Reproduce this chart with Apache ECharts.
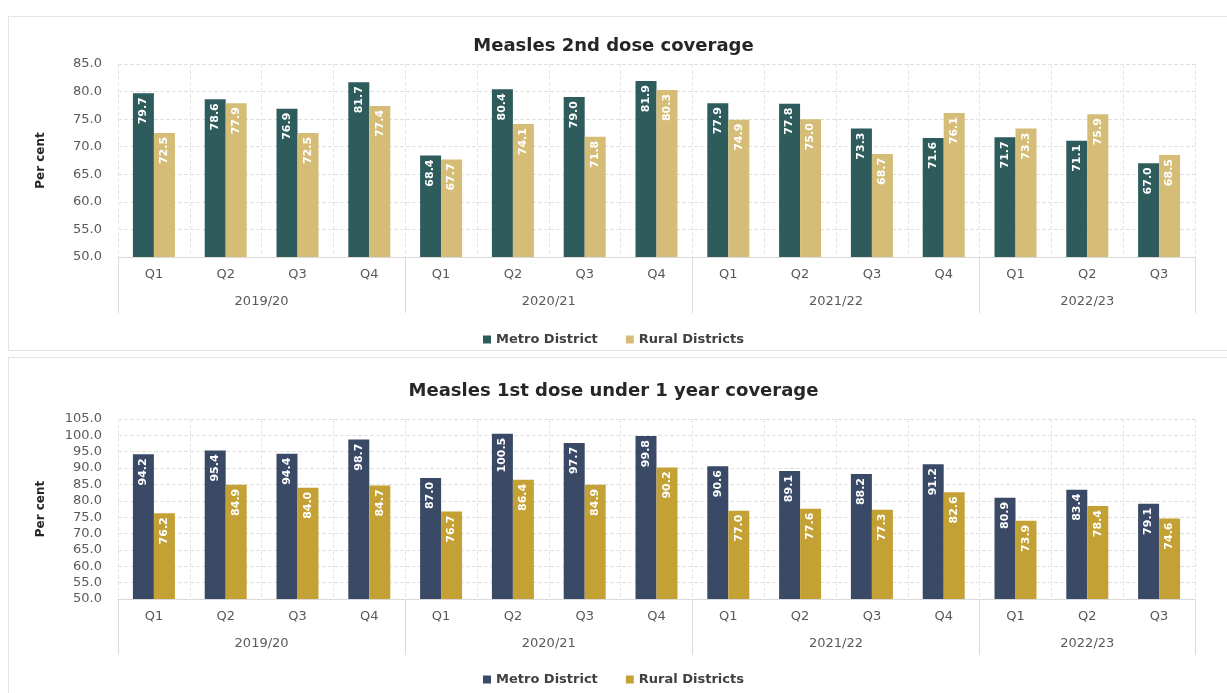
<!DOCTYPE html>
<html>
<head>
<meta charset="utf-8">
<script src="https://cdn.jsdelivr.net/npm/echarts@6/dist/echarts.min.js"></script>
<style>
  html, body { margin: 0; padding: 0; background: #ffffff; }
  .wrap { position: absolute; left: 0; width: 1227px; overflow: hidden; }
  #w1 { top: 0; height: 353px; }
  #w2 { top: 353px; height: 340px; }
  .box { position: absolute; border: 1px solid #e4e4e4; background: #fff; }
  #b1 { left: 8px; top: 16px; right: -4px; bottom: 2px; }
  #b2 { left: 8px; top: 4px; right: -4px; bottom: -4px; }
  .chart { position: absolute; left: 0; top: 0; width: 1227px; height: 100%; }
</style>
</head>
<body>
<div class="wrap" id="w1"><div class="box" id="b1"></div><div class="chart" id="c1"></div></div>
<div class="wrap" id="w2"><div class="box" id="b2"></div><div class="chart" id="c2"></div></div>
<script>
// ---- data ----
const quarters = ['Q1','Q2','Q3','Q4','Q1','Q2','Q3','Q4','Q1','Q2','Q3','Q4','Q1','Q2','Q3'];
const years = ['2019/20','2020/21','2021/22','2022/23'];
const yearSizes = [4, 4, 4, 3];
const seriesNames = ['Metro District', 'Rural Districts'];

const title1 = 'Measles 2nd dose coverage';
const metro2nd = [79.7, 78.6, 76.9, 81.7, 68.4, 80.4, 79.0, 81.9, 77.9, 77.8, 73.3, 71.6, 71.7, 71.1, 67.0];
const rural2nd = [72.5, 77.9, 72.5, 77.4, 67.7, 74.1, 71.8, 80.3, 74.9, 75.0, 68.7, 76.1, 73.3, 75.9, 68.5];
const yTicks1 = { min: 50, max: 85, interval: 5 };

const title2 = 'Measles 1st dose under 1 year coverage';
const metro1st = [94.2, 95.4, 94.4, 98.7, 87.0, 100.5, 97.7, 99.8, 90.6, 89.1, 88.2, 91.2, 80.9, 83.4, 79.1];
const rural1st = [76.2, 84.9, 84.0, 84.7, 76.7, 86.4, 84.9, 90.2, 77.0, 77.6, 77.3, 82.6, 73.9, 78.4, 74.6];
const yTicks2 = { min: 50, max: 105, interval: 5 };

const yAxisName = 'Per cent';

// ---- helpers ----
const FONT = 'DejaVu Sans';
const boundaries = [0];
const centers = [];
yearSizes.forEach(function (s) {
  const start = boundaries[boundaries.length - 1];
  centers.push(start + s / 2);
  boundaries.push(start + s);
});
const total = quarters.length;

function makeOption(cfg) {
  const labelCommon = {
    show: true,
    position: 'insideTop',
    rotate: 90,
    align: 'right',
    verticalAlign: 'middle',
    distance: 4,
    color: '#ffffff',
    fontFamily: FONT,
    fontWeight: 'bold',
    fontSize: 11,
    formatter: function (p) { return Number(p.value).toFixed(1); }
  };
  return {
    animation: false,
    backgroundColor: 'transparent',
    title: {
      text: cfg.title,
      left: 'center',
      top: cfg.titleTop,
      textStyle: { fontFamily: FONT, fontSize: 18, fontWeight: 'bold', color: '#262626' }
    },
    legend: {
      data: seriesNames,
      top: cfg.legendTop,
      left: 'center',
      icon: 'rect',
      itemWidth: 8,
      itemHeight: 8,
      itemGap: 28,
      textStyle: { fontFamily: FONT, fontSize: 13, fontWeight: 'bold', color: '#404040' }
    },
    grid: { left: 118, right: 32, top: cfg.gridTop, bottom: cfg.gridBottom, containLabel: false },
    xAxis: [
      {
        type: 'category',
        data: quarters,
        axisLine: { show: true, lineStyle: { color: '#d9d9d9' } },
        axisTick: { show: false },
        axisLabel: { interval: 0, margin: 11, fontFamily: FONT, fontSize: 13, color: '#595959' },
        splitLine: { show: true, interval: 0, lineStyle: { color: '#e6e6e6', type: 'dashed' } }
      },
      {
        type: 'value',
        min: 0,
        max: total,
        position: 'bottom',
        axisLine: { show: false },
        splitLine: { show: false },
        axisTick: { show: true, customValues: boundaries, length: 56, lineStyle: { color: '#dadada' } },
        axisLabel: {
          customValues: centers,
          margin: 38,
          fontFamily: FONT,
          fontSize: 13,
          color: '#595959',
          formatter: function (v) {
            const i = centers.indexOf(v);
            return i >= 0 ? years[i] : '';
          }
        }
      }
    ],
    yAxis: {
      type: 'value',
      min: cfg.y.min,
      max: cfg.y.max,
      interval: cfg.y.interval,
      name: yAxisName,
      nameLocation: 'middle',
      nameGap: 71,
      nameTextStyle: { fontFamily: FONT, fontSize: 12, fontWeight: 'bold', color: '#262626' },
      axisLine: { show: false },
      axisTick: { show: false },
      axisLabel: {
        fontFamily: FONT, fontSize: 13, color: '#595959', margin: 16,
        formatter: function (v) { return v.toFixed(1); }
      },
      splitLine: { show: true, lineStyle: { color: '#e0e0e0', type: 'dashed' } }
    },
    series: [
      {
        name: seriesNames[0], type: 'bar', xAxisIndex: 0, data: cfg.a,
        barWidth: 21, barGap: '0%',
        itemStyle: { color: cfg.colors[0] },
        label: labelCommon
      },
      {
        name: seriesNames[1], type: 'bar', xAxisIndex: 0, data: cfg.b,
        barWidth: 21, barGap: '0%',
        itemStyle: { color: cfg.colors[1] },
        label: labelCommon
      }
    ]
  };
}

const c1 = echarts.init(document.getElementById('c1'), null, { renderer: 'canvas' });
c1.setOption(makeOption({
  title: title1, titleTop: 32, legendTop: 328,
  gridTop: 64, gridBottom: 96,
  y: yTicks1, a: metro2nd, b: rural2nd,
  colors: ['#2e5b5c', '#d5bd77']
}));

const c2 = echarts.init(document.getElementById('c2'), null, { renderer: 'canvas' });
c2.setOption(makeOption({
  title: title2, titleTop: 24, legendTop: 315,
  gridTop: 66, gridBottom: 94,
  y: yTicks2, a: metro1st, b: rural1st,
  colors: ['#3a4a66', '#c4a134']
}));
</script>
</body>
</html>
